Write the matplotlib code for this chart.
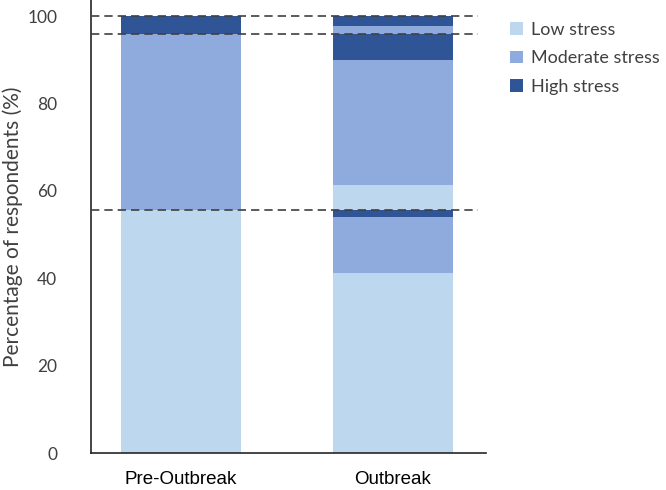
import numpy as np
import matplotlib
matplotlib.use("Agg")
import matplotlib.pyplot as plt
from matplotlib.patches import Patch

categories = ["Pre-Outbreak", "Outbreak"]
levels = ["Low stress", "Moderate stress", "High stress"]
colors = ["#BDD7EE", "#8FAADC", "#2F5597"]

# pre-outbreak shares (%)
pre_vals = [55.6, 40.4, 4.0]
# outbreak shares, split by pre-outbreak group (low, moderate, high group)
out_low = [41.3, 5.7, 0.0]
out_mod = [12.8, 28.7, 1.8]
out_high = [1.5, 6.0, 2.2]

fig = plt.figure(figsize=(6.66, 4.9), dpi=100)
ax = fig.add_axes([0.136, 0.0755, 0.593, 0.9245])

width = 0.566
# Pre-outbreak bar
bottom = 0
for v, c in zip(pre_vals, colors):
    ax.bar(0, v, width, bottom=bottom, color=c, linewidth=0)
    bottom += v

# Outbreak bar, one sub-stack for each pre-outbreak group
bottom = 0
for g in range(3):
    for v, c in zip([out_low[g], out_mod[g], out_high[g]], colors):
        ax.bar(1, v, width, bottom=bottom, color=c, linewidth=0)
        bottom += v

# dashed lines at pre-outbreak boundaries
for y in np.cumsum(pre_vals):
    ax.axhline(y, xmin=0, xmax=0.98, color="#404040", ls=(0, (5, 3)), lw=1.2, zorder=5)

ax.set_xlim(-0.426, 1.437)
ax.set_ylim(0, 103.7)
ax.set_yticks([0, 20, 40, 60, 80, 100])
ax.set_xticks([0, 1])
ax.set_xticklabels(categories, fontsize=13.5, family="Liberation Sans", color="black")
ax.tick_params(axis="x", length=0, pad=13)
ax.tick_params(axis="y", length=0, pad=24, labelsize=12.5, labelcolor="#404040")
for lab in ax.get_yticklabels():
    lab.set_family("Lato")
ax.set_ylabel("Percentage of respondents (%)", fontsize=15, family="Lato",
              color="#404040", labelpad=3)

for s in ["top", "right"]:
    ax.spines[s].set_visible(False)
for s in ["left", "bottom"]:
    ax.spines[s].set_color("#262626")
    ax.spines[s].set_linewidth(1.2)

handles = [Patch(facecolor=c, edgecolor="none") for c in colors]
fig.legend(handles, levels, loc="upper left", bbox_to_anchor=(0.742, 0.988),
           frameon=False, handlelength=0.7, handleheight=0.7, handletextpad=0.45,
           labelspacing=0.68, prop={"family": "Lato", "size": 13},
           labelcolor="#404040")

fig.savefig("out.png", dpi=100)
